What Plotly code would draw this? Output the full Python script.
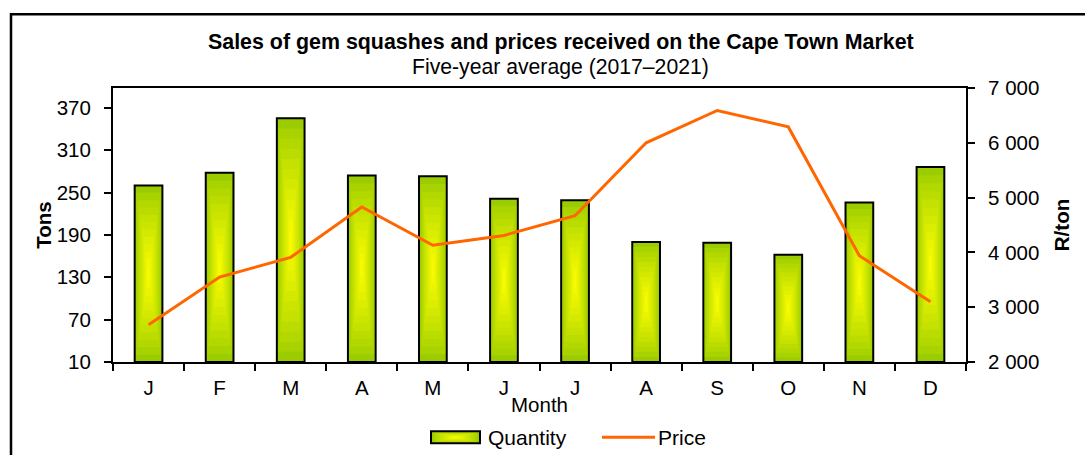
import plotly.graph_objects as go

months = ["J", "F", "M", "A", "M", "J", "J", "A", "S", "O", "N", "D"]
month_ids = ["Jan", "Feb", "Mar", "Apr", "May", "Jun", "Jul", "Aug", "Sep", "Oct", "Nov", "Dec"]
quantity = [260, 278, 355, 274, 273, 241, 239, 180, 179, 162, 236, 286]
price = [2680, 3550, 3910, 4830, 4130, 4310, 4670, 6000, 6590, 6290, 3940, 3100]

title_text = "Sales of gem squashes and prices received on the Cape Town Market"
subtitle_text = "Five-year average (2017–2021)"
series_names = ["Quantity", "Price"]

FONT = "Liberation Sans, Arial, sans-serif"
BAR_W = 0.39
Y_MIN, Y_MAX = 10, 398
EDGE = (155, 204, 0)
CENTER = (255, 255, 0)
LINE_COLOR = "#FF6600"

# plot-area pixel geometry
L, R, T, B = 113, 966, 88, 362.5
PW, PH = R - L, B - T


def px(xp):
    return (xp - L) / PW


def py(yp):
    return (B - yp) / PH


def grad_color(t):
    c = tuple(int(EDGE[k] + (CENTER[k] - EDGE[k]) * (t ** 0.8)) for k in range(3))
    return "rgb(%d,%d,%d)" % c


fig = go.Figure()

fig.add_trace(go.Bar(
    x=month_ids, y=[v - Y_MIN for v in quantity], base=Y_MIN, width=BAR_W,
    name=series_names[0], marker=dict(color=grad_color(0), line=dict(color="black", width=2)),
    yaxis="y", hovertemplate="%{x}: %{customdata}<extra></extra>", customdata=quantity,
    showlegend=False,
))

n = 12
for i in range(1, n):
    t = i / n
    fig.add_trace(go.Bar(
        x=month_ids,
        y=[(v - Y_MIN) * (1 - t) for v in quantity],
        base=[Y_MIN + (v - Y_MIN) * t / 2 for v in quantity],
        width=BAR_W * (1 - t) - 0.01,
        marker=dict(color=grad_color(t), line=dict(width=0)),
        showlegend=False, hoverinfo="skip", yaxis="y",
    ))

fig.add_trace(go.Scatter(
    x=month_ids, y=price, name=series_names[1], mode="lines",
    line=dict(color=LINE_COLOR, width=3), yaxis="y2", showlegend=False,
))

# legend drawn as layout decoration (wide gradient key like the original)
shapes = [
    dict(type="rect", xref="paper", yref="paper",
         x0=px(11), x1=px(1100), y0=py(470), y1=py(14),
         line=dict(color="black", width=2.5), fillcolor="rgba(0,0,0,0)", layer="below"),
]
kx0, kx1, ky0, ky1 = 431, 480, 432, 444
m = 8
for i in range(m):
    t = i / m
    dx = (kx1 - kx0) / 2 * t
    dy = (ky1 - ky0) / 2 * t
    shapes.append(dict(type="rect", xref="paper", yref="paper",
                       x0=px(kx0 + dx), x1=px(kx1 - dx), y0=py(ky1 - dy), y1=py(ky0 + dy),
                       line=dict(width=0), fillcolor=grad_color(t), layer="above"))
shapes.append(dict(type="rect", xref="paper", yref="paper",
                   x0=px(kx0), x1=px(kx1), y0=py(ky1), y1=py(ky0),
                   line=dict(color="black", width=2), fillcolor="rgba(0,0,0,0)", layer="above"))
shapes.append(dict(type="line", xref="paper", yref="paper",
                   x0=px(602), x1=px(655), y0=py(438), y1=py(438),
                   line=dict(color=LINE_COLOR, width=3), layer="above"))

annotations = [
    dict(text="<b>%s</b>" % title_text, xref="paper", yref="paper",
         x=px(561), y=py(42), xanchor="center", yanchor="middle",
         showarrow=False, font=dict(size=21.4)),
    dict(text=subtitle_text, xref="paper", yref="paper",
         x=px(560), y=py(67), xanchor="center", yanchor="middle",
         showarrow=False, font=dict(size=21.2)),
    dict(text=series_names[0], xref="paper", yref="paper",
         x=px(486), y=py(438), xanchor="left", yanchor="middle",
         showarrow=False, font=dict(size=21)),
    dict(text=series_names[1], xref="paper", yref="paper",
         x=px(656), y=py(438), xanchor="left", yanchor="middle",
         showarrow=False, font=dict(size=21)),
]

fig.update_layout(
    width=1085, height=455,
    margin=dict(l=L, r=1085 - R, t=T, b=455 - B, autoexpand=False),
    paper_bgcolor="white", plot_bgcolor="white",
    barmode="overlay",
    separators=". ",
    font=dict(family=FONT, size=20, color="black"),
    showlegend=False,
    xaxis=dict(
        tickmode="array", tickvals=month_ids, ticktext=months,
        tickson="boundaries", ticks="outside", ticklen=7, tickwidth=2, tickcolor="black",
        showline=True, linecolor="black", linewidth=2, mirror=True,
        showgrid=False, zeroline=False, automargin=False,
        tickfont=dict(size=20.5), ticklabelstandoff=6,
        title=dict(text="Month", standoff=0, font=dict(size=20.5)),
    ),
    yaxis=dict(
        range=[Y_MIN, Y_MAX], tick0=10, dtick=60, tickmode="linear",
        ticks="outside", ticklen=7, tickwidth=2, tickcolor="black",
        showline=True, linecolor="black", linewidth=2, mirror=True,
        showgrid=False, zeroline=False, automargin=False,
        tickfont=dict(size=20.5), ticklabelstandoff=9,
        title=dict(text="<b>Tons</b>", font=dict(size=20.5), standoff=0),
    ),
    yaxis2=dict(
        range=[2000, 7000], dtick=1000, tick0=2000, tickmode="linear",
        overlaying="y", side="right", tickformat=",d",
        ticks="outside", ticklen=7, tickwidth=2, tickcolor="black",
        showline=True, linecolor="black", linewidth=2,
        showgrid=False, zeroline=False, automargin=False,
        tickfont=dict(size=20.5), ticklabelstandoff=9,
        title=dict(text="<b>R/ton</b>", font=dict(size=20.5), standoff=16),
    ),
    annotations=annotations,
    shapes=shapes,
)

fig.write_html("out.html", config={"displayModeBar": False},
               post_script="document.body.style.margin='0';document.body.style.overflow='hidden';")
